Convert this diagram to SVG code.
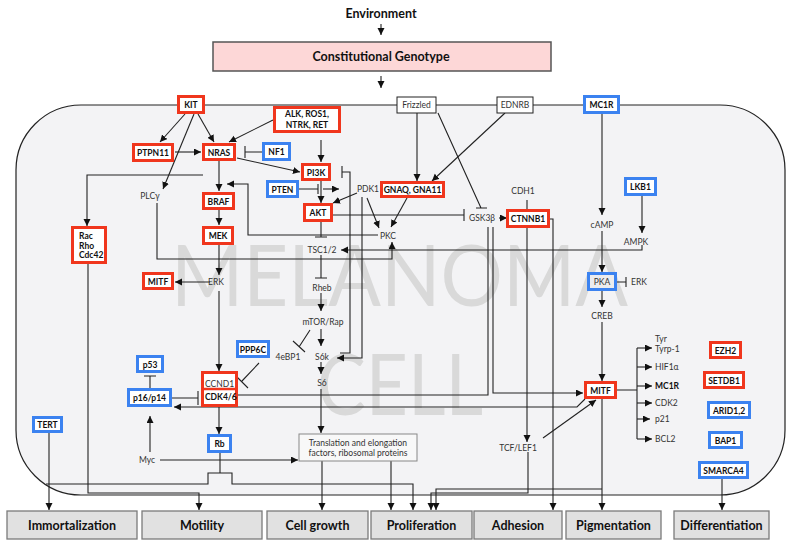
<svg xmlns="http://www.w3.org/2000/svg" width="795" height="547" viewBox="0 0 795 547">
<style>
.ln{fill:none;stroke:#222;stroke-width:1.1}
.ar{marker-end:url(#ah)}
.red rect{fill:#fff;stroke:#f0361d;stroke-width:3}
.blue rect{fill:#fff;stroke:#3b82f0;stroke-width:3}
.thin rect{fill:#fff;stroke:#222;stroke-width:1}
.nt{font-family:Lato,"Liberation Sans",sans-serif;font-weight:bold;font-size:8.5px;text-anchor:middle;fill:#111}
.lb{font-family:Lato,"Liberation Sans",sans-serif;font-size:8.5px;text-anchor:middle;fill:#333}
.ls{text-anchor:start}
.out rect{fill:#e1e1e1;stroke:#7a7a7a;stroke-width:1.3}
.ot{font-family:Lato,"Liberation Sans",sans-serif;font-weight:bold;font-size:12.5px;text-anchor:middle;fill:#111}
.wm{font-family:Lato,"Liberation Sans",sans-serif;font-size:86px;fill:#d9d9d9}
</style>
<defs>
<marker id="ah" markerUnits="userSpaceOnUse" markerWidth="8" markerHeight="8" refX="7" refY="3.5" orient="auto">
<path d="M0,0 L7,3.5 L0,7 z" fill="#111"/>
</marker>
</defs>
<rect width="795" height="547" fill="#fff"/>

<!-- top -->
<g id="environment"><text x="381" y="18" class="ot" font-size="13px">Environment</text></g>
<g id="genotype">
<rect x="213" y="42" width="338" height="29" fill="#fdd7d7" stroke="#555" stroke-width="1.5"/>
<text x="381" y="61" class="ot" font-size="13.5px">Constitutional Genotype</text>
</g>

<!-- cell -->
<g id="cell">
<rect x="16" y="105" width="769" height="390" rx="65" ry="65" fill="#f3f3f5" stroke="#222" stroke-width="1.2"/>
<text x="171" y="306" class="wm" textLength="457" lengthAdjust="spacingAndGlyphs">MELANOMA</text>
<text x="317" y="415" class="wm" textLength="166" lengthAdjust="spacingAndGlyphs">CELL</text>
</g>

<!-- connectors -->
<g id="connectors">
<path class="ln ar" d="M381,24 V35"/>
<path class="ln ar" d="M381,76 V88"/>
<path class="ln ar" d="M185,114 L160,142"/>
<path class="ln ar" d="M198,114 L214,142"/>
<path class="ln ar" d="M194,114 L163,189"/>
<path class="ln ar" d="M175,152 H201"/>
<path class="ln ar" d="M273,120 L229,142"/>
<path class="ln" d="M262,152 H245 M245,146 V158"/>
<path class="ln ar" d="M321,140 V162"/>
<path class="ln ar" d="M237,158 L300,172"/>
<path class="ln ar" d="M219,161 V191"/>
<path class="ln ar" d="M219,210 V225"/>
<path class="ln ar" d="M219,245 V275"/>
<path class="ln ar" d="M203,175 H87 V226"/>
<path class="ln ar" d="M157,203 V259 H392 V242"/>
<path class="ln ar" d="M378,235 H248 V184 H227"/>
<path class="ln ar" d="M210,282 H175"/>
<path class="ln ar" d="M219,291 V371"/>
<path class="ln" d="M299,189 H318 M318,184 V194"/>
<path class="ln ar" d="M323,189 H339"/>
<path class="ln ar" d="M321,181 V203"/>
<path class="ln ar" d="M357,193 L333,203"/>
<path class="ln ar" d="M367,198 L379,228"/>
<path class="ln ar" d="M362,197 V358 H337"/>
<path class="ln" d="M340,353 H350 V172 H342 M342,166 V178"/>
<path class="ln" d="M321,222 V237 M315,237 H327"/>
<path class="ln" d="M333,215 H464 M464,209 V221"/>
<path class="ln ar" d="M417,113 V181"/>
<path class="ln ar" d="M505,113 L432,181"/>
<path class="ln" d="M438,113 L481,208 M476,208 H487"/>
<path class="ln ar" d="M407,198 L391,227"/>
<path class="ln ar" d="M499,218 H507"/>
<path class="ln ar" d="M642,245 V250 H341"/>
<path class="ln ar" d="M642,196 V233"/>
<path class="ln ar" d="M602,114 V215"/>
<path class="ln ar" d="M602,231 V272"/>
<path class="ln" d="M617,282 H626 M626,277 V287"/>
<path class="ln ar" d="M602,291 V307"/>
<path class="ln ar" d="M602,322 V381"/>
<path class="ln" d="M321,255 V278 M315,278 H327"/>
<path class="ln ar" d="M321,293 V311"/>
<path class="ln ar" d="M321,329 V346"/>
<path class="ln ar" d="M321,362 V374"/>
<path class="ln ar" d="M321,389 V433"/>
<path class="ln" d="M310,330 L299,347 M293,341 L305,352"/>
<path class="ln" d="M259,363 L242,381 M235,375 L248,388"/>
<path class="ln" d="M150,388 V376 M144,376 H156"/>
<path class="ln" d="M172,398 H198 M198,391 V405"/>
<path class="ln ar" d="M219,407 V434"/>
<path class="ln" d="M238,395 H488 V227"/>
<path class="ln ar" d="M493,227 V393 H583"/>
<path class="ln ar" d="M585,399 L577,407 H174"/>
<path class="ln ar" d="M543,438 L596,400"/>
<path class="ln" d="M527,200 V209"/>
<path class="ln ar" d="M527,228 V442"/>
<path class="ln ar" d="M550,219 H553 V510"/>
<path class="ln ar" d="M528,452 V493 H431 V510"/>
<path class="ln ar" d="M602,399 V510"/>
<path class="ln ar" d="M602,489 H436 V510"/>
<path class="ln" d="M617,390 H637 M637,348 V439"/>
<path class="ln ar" d="M637,348 H652"/>
<path class="ln ar" d="M637,367 H652"/>
<path class="ln ar" d="M637,386 H652"/>
<path class="ln ar" d="M637,403 H652"/>
<path class="ln ar" d="M637,419 H650"/>
<path class="ln ar" d="M637,439 H652"/>
<path class="ln ar" d="M150,452 V416"/>
<path class="ln ar" d="M160,460 H298"/>
<path class="ln" d="M220,453 V473"/>
<path class="ln ar" d="M46,484 H208 V473 H232 V484 H413 V510"/>
<path class="ln ar" d="M322,461 V510"/>
<path class="ln ar" d="M391,461 V510"/>
<path class="ln ar" d="M88,264 V493 H199 V510"/>
<path class="ln ar" d="M49,433 V510"/>
<path class="ln ar" d="M722,479 V510"/>
</g>

<!-- nodes -->
<g id="KIT" class="red"><rect x="178.5" y="96.5" width="25" height="16"/><text x="191" y="108" class="nt">KIT</text></g>
<g id="PTPN11" class="red"><rect x="133.5" y="144.5" width="39" height="16"/><text x="153" y="156" class="nt">PTPN11</text></g>
<g id="NRAS" class="red"><rect x="203.5" y="144.5" width="31" height="15"/><text x="219" y="155.5" class="nt">NRAS</text></g>
<g id="NF1" class="blue"><rect x="263.5" y="143.5" width="26" height="16"/><text x="276.5" y="155" class="nt">NF1</text></g>
<g id="ALK" class="red"><rect x="274.5" y="107.5" width="65" height="24"/><text x="307" y="117" class="nt">ALK, ROS1,</text><text x="307" y="127.5" class="nt">NTRK, RET</text></g>
<g id="PI3K" class="red"><rect x="302.5" y="164.5" width="27" height="15"/><text x="316" y="175.5" class="nt">PI3K</text></g>
<g id="PTEN" class="blue"><rect x="267.5" y="181.5" width="30" height="15"/><text x="282.5" y="192.5" class="nt">PTEN</text></g>
<g id="AKT" class="red"><rect x="304.5" y="204.5" width="27" height="16"/><text x="318" y="216" class="nt">AKT</text></g>
<g id="GNAQ" class="red"><rect x="381.5" y="182.5" width="62" height="14"/><text x="412.5" y="193" class="nt">GNAQ, GNA11</text></g>
<g id="Frizzled" class="thin"><rect x="397" y="97" width="39" height="16"/><text x="416.5" y="108" class="lb">Frizzled</text></g>
<g id="EDNRB" class="thin"><rect x="497" y="97" width="36" height="16"/><text x="515" y="108" class="lb">EDNRB</text></g>
<g id="CTNNB1" class="red"><rect x="507.5" y="210.5" width="41" height="16"/><text x="528" y="222" class="nt">CTNNB1</text></g>
<g id="MC1R" class="blue"><rect x="584.5" y="96.5" width="34" height="16"/><text x="601.5" y="108" class="nt">MC1R</text></g>
<g id="LKB1" class="blue"><rect x="625.5" y="178.5" width="30" height="16"/><text x="640.5" y="190" class="nt">LKB1</text></g>
<g id="BRAF" class="red"><rect x="203.5" y="193.5" width="30" height="15"/><text x="218.5" y="204.5" class="nt">BRAF</text></g>
<g id="MEK" class="red"><rect x="203.5" y="227.5" width="29" height="16"/><text x="218" y="239" class="nt">MEK</text></g>
<g id="Rac" class="red"><rect x="72.5" y="227.5" width="33" height="35"/><text x="79" y="239" class="nt ls">Rac</text><text x="79" y="248.5" class="nt ls">Rho</text><text x="79" y="258" class="nt ls">Cdc42</text></g>
<g id="MITF1" class="red"><rect x="143.5" y="273.5" width="29" height="15"/><text x="158" y="284.5" class="nt">MITF</text></g>
<g id="PKA" class="blue"><rect x="588.5" y="273.5" width="27" height="16" style="fill:#ececee"/><text x="602" y="285" class="lb">PKA</text></g>
<g id="PPP6C" class="blue"><rect x="237.5" y="341.5" width="31" height="15"/><text x="253" y="352.5" class="nt">PPP6C</text></g>
<g id="p53" class="blue"><rect x="137.5" y="356.5" width="25" height="15"/><text x="150" y="367.5" class="nt">p53</text></g>
<g id="p16" class="blue"><rect x="128.5" y="389.5" width="42" height="16"/><text x="149.5" y="401" class="nt">p16/p14</text></g>
<g id="CCND1" class="red"><rect x="202.5" y="372.5" width="34" height="33"/><line x1="202" y1="389" x2="237" y2="389" stroke="#f0361d" stroke-width="2.5"/><text x="205" y="387" class="lb ls">CCND1</text><text x="205" y="400" class="nt ls">CDK4/6</text></g>
<g id="Rb" class="blue"><rect x="208.5" y="435.5" width="22" height="16"/><text x="219.5" y="447" class="nt">Rb</text></g>
<g id="TERT" class="blue"><rect x="33.5" y="417.5" width="28" height="14"/><text x="47.5" y="428" class="nt">TERT</text></g>
<g id="MITF2" class="red"><rect x="585.5" y="382.5" width="30" height="15"/><text x="600.5" y="393.5" class="nt">MITF</text></g>
<g id="EZH2" class="red"><rect x="710.5" y="342.5" width="30" height="15"/><text x="725.5" y="353.5" class="nt">EZH2</text></g>
<g id="SETDB1" class="red"><rect x="704.5" y="372.5" width="39" height="15"/><text x="724" y="383.5" class="nt">SETDB1</text></g>
<g id="ARID" class="blue"><rect x="708.5" y="402.5" width="41" height="15"/><text x="729" y="413.5" class="nt">ARID1,2</text></g>
<g id="BAP1" class="blue"><rect x="709.5" y="432.5" width="32" height="15"/><text x="725.5" y="443.5" class="nt">BAP1</text></g>
<g id="SMARCA4" class="blue"><rect x="699.5" y="462.5" width="48" height="15"/><text x="723.5" y="473.5" class="nt">SMARCA4</text></g>
<g id="Translation"><rect x="299" y="434" width="118" height="27" fill="#f8f8f8" stroke="#888" stroke-width="1"/><text x="358" y="446" class="lb">Translation and elongation</text><text x="358" y="456" class="lb">factors, ribosomal proteins</text></g>

<!-- labels -->
<g id="labels">
<text x="150" y="199" class="lb">PLCγ</text>
<text x="216" y="285" class="lb">ERK</text>
<text x="322" y="252.5" class="lb">TSC1/2</text>
<text x="388" y="239" class="lb">PKC</text>
<text x="368" y="192" class="lb">PDK1</text>
<text x="482" y="221" class="lb">GSK3β</text>
<text x="523" y="194" class="lb">CDH1</text>
<text x="602" y="228" class="lb">cAMP</text>
<text x="636" y="245" class="lb">AMPK</text>
<text x="639" y="285" class="lb">ERK</text>
<text x="602" y="319" class="lb">CREB</text>
<text x="322" y="291" class="lb">Rheb</text>
<text x="323" y="325" class="lb">mTOR/Rap</text>
<text x="288" y="360" class="lb">4eBP1</text>
<text x="322" y="360" class="lb">S6k</text>
<text x="322" y="386" class="lb">S6</text>
<text x="147" y="463" class="lb">Myc</text>
<text x="518" y="451" class="lb">TCF/LEF1</text>
<text x="655" y="342" class="lb ls">Tyr</text>
<text x="655" y="351.5" class="lb ls">Tyrp-1</text>
<text x="655" y="370" class="lb ls">HIF1α</text>
<text x="655" y="389" class="nt ls">MC1R</text>
<text x="655" y="406" class="lb ls">CDK2</text>
<text x="655" y="422" class="lb ls">p21</text>
<text x="655" y="442" class="lb ls">BCL2</text>
</g>

<!-- outcomes -->
<g id="Immortalization" class="out"><rect x="7" y="511" width="130" height="28"/><text x="72" y="529.5" class="ot">Immortalization</text></g>
<g id="Motility" class="out"><rect x="142" y="511" width="120" height="28"/><text x="202" y="529.5" class="ot">Motility</text></g>
<g id="CellGrowth" class="out"><rect x="267" y="511" width="101" height="28"/><text x="317.5" y="529.5" class="ot">Cell growth</text></g>
<g id="Proliferation" class="out"><rect x="371" y="511" width="101" height="28"/><text x="421.5" y="529.5" class="ot">Proliferation</text></g>
<g id="Adhesion" class="out"><rect x="474" y="511" width="88" height="28"/><text x="518" y="529.5" class="ot">Adhesion</text></g>
<g id="Pigmentation" class="out"><rect x="566" y="511" width="95" height="28"/><text x="613.5" y="529.5" class="ot">Pigmentation</text></g>
<g id="Differentiation" class="out"><rect x="674" y="511" width="95" height="28"/><text x="721.5" y="529.5" class="ot">Differentiation</text></g>
</svg>
